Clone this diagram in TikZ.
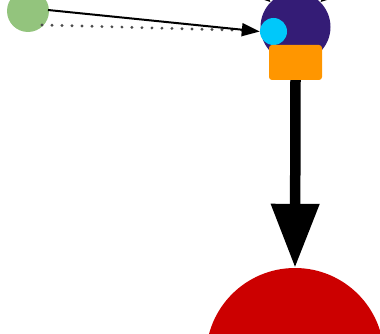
\documentclass[tikz,border=0pt]{standalone}
\usetikzlibrary{arrows.meta}
\definecolor{cgreen}{RGB}{147,196,125}
\definecolor{cpurple}{RGB}{52,28,118}
\definecolor{ccyan}{RGB}{0,200,250}
\definecolor{corange}{RGB}{255,150,0}
\definecolor{cred}{RGB}{204,0,0}
\tikzset{
  blob/.style={circle, inner sep=0pt, draw=none},
  thin arrow/.style={line width=2pt, -{Triangle[length=18pt,width=13pt]}},
  dotline/.style={line width=3.2pt, dash pattern=on 0pt off 10pt, line cap=round, black!70},
  big arrow/.style={line width=10.5pt, -{Triangle[length=64pt,width=46pt]}},
  edge tip/.style={line width=1.8pt, -{Triangle[length=10pt,width=8pt]}},
}
\begin{document}
\begin{tikzpicture}[x=1pt,y=-1pt]
\useasboundingbox (0,0) rectangle (380,334);
\begin{scope}
\clip (0,0) rectangle (380,334);
\node[blob, fill=cgreen, minimum size=42pt] (g) at (28,11) {};
\node[blob, fill=cpurple, minimum size=70pt] (p) at (295.5,27) {};
\coordinate (ta) at (240,-25);
\coordinate (tb) at (352,-25);
\draw[edge tip] (ta) -- (p.135);
\draw[edge tip] (tb) -- (p.45);
\node[blob, fill=ccyan, minimum size=27pt] (c) at (273.5,31.5) {};
\node[draw=none, fill=corange, rounded corners=3pt, minimum width=53pt, minimum height=35pt, inner sep=0pt] (o) at (295.5,62.5) {};
\node[blob, fill=cred, minimum size=178pt] (r) at (295,357) {};
\coordinate (gd) at (42,25);
\coordinate (cd) at (250,30.5);
\draw[dotline] (gd) -- (cd);
\coordinate (gs) at (48,10);
\draw[thin arrow] (gs) -- (c.west);
\draw[big arrow] (o.south) -- (r.north);
\end{scope}
\end{tikzpicture}
\end{document}
